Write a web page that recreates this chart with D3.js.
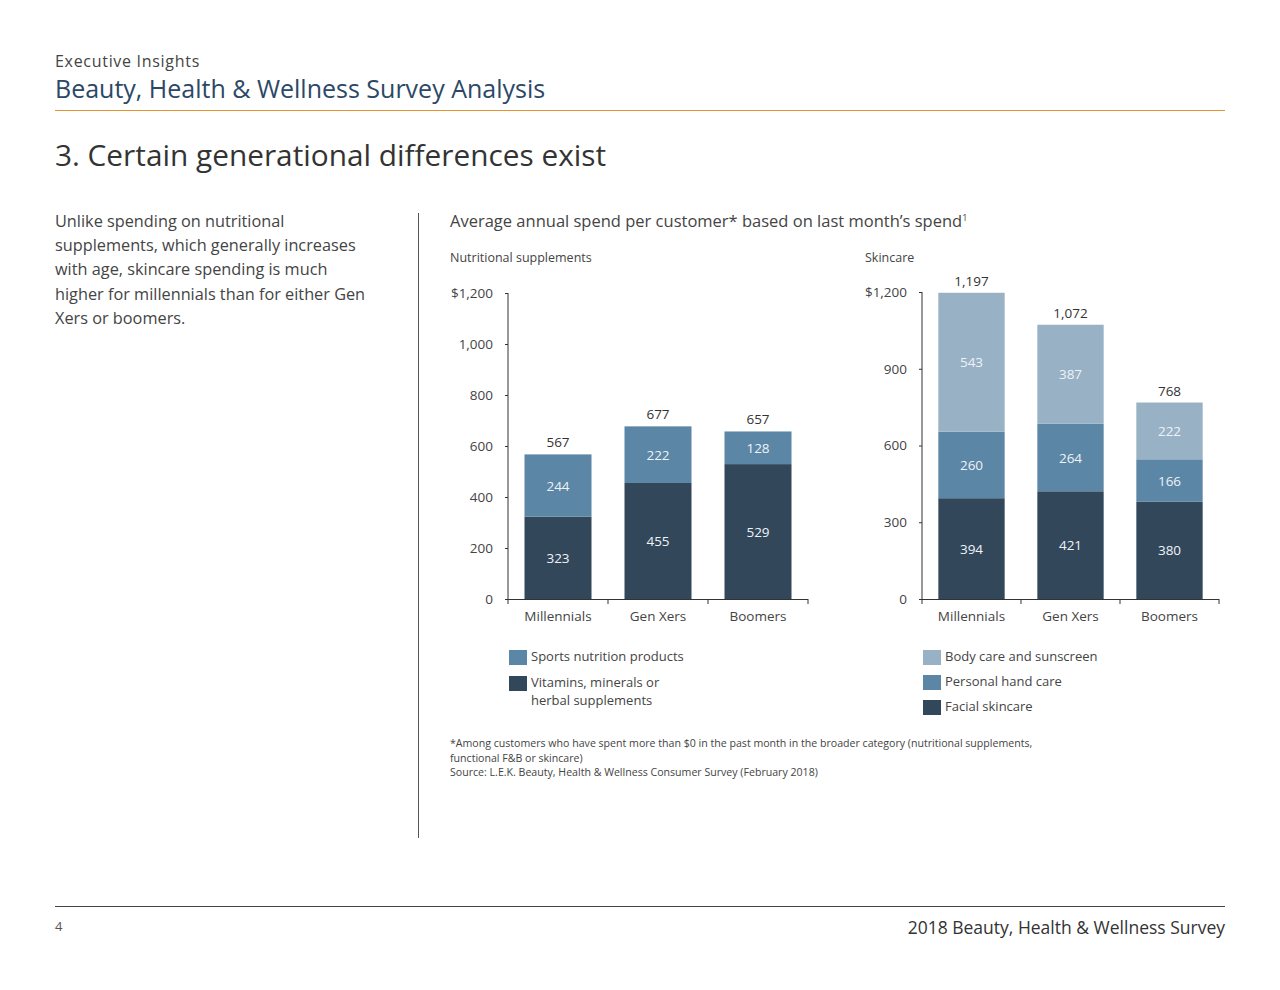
<!DOCTYPE html>
<html>
<head>
<meta charset="utf-8">
<script src="https://cdn.jsdelivr.net/npm/d3@7"></script>
<style>
  body { margin: 0; background: #fff; }
  svg text { font-family: "Open Sans", "Noto Sans", sans-serif; }
</style>
</head>
<body>
<div id="wrapper"></div>
<script>
// Data
const generations = ['Millennials', 'Gen Xers', 'Boomers']

const nutritionSeries = ['Vitamins, minerals or herbal supplements', 'Sports nutrition products']
const vitamins = [323, 455, 529]
const sports = [244, 222, 128]
const nutritionTotals = [567, 677, 657]
const nutritionTicks = [0, 200, 400, 600, 800, 1000, 1200]

const skinSeries = ['Facial skincare', 'Personal hand care', 'Body care and sunscreen']
const facial = [394, 421, 380]
const handCare = [260, 264, 166]
const bodyCare = [543, 387, 222]
const skinTotals = [1197, 1072, 768]
const skinTicks = [0, 300, 600, 900, 1200]

const introLines = [
  'Unlike spending on nutritional',
  'supplements, which generally increases',
  'with age, skincare spending is much',
  'higher for millennials than for either Gen',
  'Xers or boomers.'
]

const footnotes = [
  '*Among customers who have spent more than $0 in the past month in the broader category (nutritional supplements,',
  'functional F&B or skincare)',
  'Source: L.E.K. Beauty, Health & Wellness Consumer Survey (February 2018)'
]

const colors = { dark: '#33475b', mid: '#5b86a5', light: '#98b1c5' }

function drawPage() {
  const svg = d3.select('#wrapper')
    .append('svg')
      .attr('width', 1280)
      .attr('height', 990)

  // Header
  svg.append('text')
    .attr('x', 55).attr('y', 67)
    .attr('font-size', 16).attr('letter-spacing', 0.7).attr('fill', '#444')
    .text('Executive Insights')
  svg.append('text')
    .attr('x', 55).attr('y', 98)
    .attr('font-size', 25).attr('fill', '#2c4866')
    .text('Beauty, Health & Wellness Survey Analysis')
  svg.append('line')
    .attr('x1', 55).attr('x2', 1225).attr('y1', 110.5).attr('y2', 110.5)
    .attr('stroke', '#e69332').attr('stroke-width', 1)
  svg.append('text')
    .attr('x', 55).attr('y', 166)
    .attr('font-size', 29.8).attr('fill', '#333')
    .text('3. Certain generational differences exist')

  // Intro text
  svg.append('g').selectAll('text')
    .data(introLines)
    .join('text')
      .attr('x', 55)
      .attr('y', (d, i) => 227 + i * 24.2)
      .attr('font-size', 16.3).attr('fill', '#444')
      .text(d => d)

  svg.append('line')
    .attr('x1', 418.5).attr('x2', 418.5).attr('y1', 213).attr('y2', 838)
    .attr('stroke', '#555')

  const title = svg.append('text')
    .attr('x', 450).attr('y', 227)
    .attr('font-size', 16.5).attr('fill', '#444')
    .text('Average annual spend per customer* based on last month\u2019s spend')
  title.append('tspan').attr('font-size', 9).attr('dy', -6).text('1')

  // Charts
  drawStack(svg, {
    label: 'Nutritional supplements', labelX: 450,
    left: 508, right: 808, top: 293, bottom: 599,
    ticks: nutritionTicks,
    layers: [
      { values: vitamins, color: colors.dark },
      { values: sports, color: colors.mid }
    ],
    totals: nutritionTotals
  })

  drawStack(svg, {
    label: 'Skincare', labelX: 865,
    left: 922, right: 1219, top: 292, bottom: 599,
    ticks: skinTicks,
    layers: [
      { values: facial, color: colors.dark },
      { values: handCare, color: colors.mid },
      { values: bodyCare, color: colors.light }
    ],
    totals: skinTotals
  })

  // Legends
  const nutLegend = [
    { lines: ['Sports nutrition products'], color: colors.mid, y: 650 },
    { lines: ['Vitamins, minerals or', 'herbal supplements'], color: colors.dark, y: 676 }
  ]
  const skinLegend = [
    { lines: ['Body care and sunscreen'], color: colors.light, y: 650 },
    { lines: ['Personal hand care'], color: colors.mid, y: 675 },
    { lines: ['Facial skincare'], color: colors.dark, y: 700 }
  ]
  drawLegend(svg, nutLegend, 509)
  drawLegend(svg, skinLegend, 923)

  // Footnotes
  svg.append('g').selectAll('text')
    .data(footnotes)
    .join('text')
      .attr('x', 450)
      .attr('y', (d, i) => 747 + i * 14.5)
      .attr('font-size', 10.6).attr('fill', '#444')
      .text(d => d)

  // Footer
  svg.append('line')
    .attr('x1', 55).attr('x2', 1225).attr('y1', 906.5).attr('y2', 906.5)
    .attr('stroke', '#444')
  svg.append('text')
    .attr('x', 55).attr('y', 931)
    .attr('font-size', 13).attr('fill', '#555')
    .text('4')
  svg.append('text')
    .attr('x', 1225).attr('y', 934)
    .attr('text-anchor', 'end')
    .attr('font-size', 17.5).attr('fill', '#333')
    .text('2018 Beauty, Health & Wellness Survey')
}

function drawStack(svg, cfg) {
  const g = svg.append('g')

  g.append('text')
    .attr('x', cfg.labelX).attr('y', 262)
    .attr('font-size', 12.5).attr('fill', '#444')
    .text(cfg.label)

  const xScale = d3.scaleBand()
    .domain(generations)
    .range([cfg.left, cfg.right])
    .paddingInner(0.33)
    .paddingOuter(0.165)

  const yScale = d3.scaleLinear()
    .domain([0, 1200])
    .range([cfg.bottom, cfg.top])

  // stacked layers
  const stacked = cfg.layers.map((layer, li) => generations.map((gen, i) => {
    const base = d3.sum(cfg.layers.slice(0, li), l => l.values[i])
    return { gen, y0: base, y1: base + layer.values[i], value: layer.values[i], color: layer.color }
  }))

  stacked.forEach(layer => {
    g.append('g').selectAll('rect')
      .data(layer)
      .join('rect')
        .attr('x', d => xScale(d.gen))
        .attr('width', xScale.bandwidth())
        .attr('y', d => yScale(d.y1))
        .attr('height', d => yScale(d.y0) - yScale(d.y1))
        .attr('fill', d => d.color)

    g.append('g').selectAll('text')
      .data(layer)
      .join('text')
        .attr('x', d => xScale(d.gen) + xScale.bandwidth() / 2)
        .attr('y', d => yScale((d.y0 + d.y1) / 2) + 5)
        .attr('text-anchor', 'middle')
        .attr('font-size', 13.5).attr('fill', '#eef3f8')
        .text(d => d.value)
  })

  // totals
  g.append('g').selectAll('text')
    .data(cfg.totals)
    .join('text')
      .attr('x', (d, i) => xScale(generations[i]) + xScale.bandwidth() / 2)
      .attr('y', d => yScale(d) - 7)
      .attr('text-anchor', 'middle')
      .attr('font-size', 13.5).attr('fill', '#333')
      .text(d => d3.format(',')(d))

  // y axis
  const yAxis = d3.axisLeft(yScale)
    .tickValues(cfg.ticks)
    .tickSize(3)
    .tickPadding(12)
    .tickFormat(d => d === 1200 ? '$1,200' : d3.format(',')(d))
  const yg = g.append('g')
    .attr('transform', `translate(${cfg.left},0)`)
    .call(yAxis)
  yg.select('.domain').attr('stroke', '#333').attr('d', `M0,${cfg.top}V${cfg.bottom}`)
  yg.selectAll('.tick line').attr('stroke', '#333')
  yg.selectAll('.tick text')
    .attr('font-family', '"Open Sans", sans-serif')
    .attr('font-size', 13.5).attr('fill', '#444')

  // x axis baseline with boundary ticks
  g.append('line')
    .attr('x1', cfg.left).attr('x2', cfg.right)
    .attr('y1', cfg.bottom + 0.5).attr('y2', cfg.bottom + 0.5)
    .attr('stroke', '#333')
  const step = xScale.step()
  const bounds = d3.range(generations.length + 1).map(i => cfg.left + i * step)
  g.append('g').selectAll('line')
    .data(bounds)
    .join('line')
      .attr('x1', d => d).attr('x2', d => d)
      .attr('y1', cfg.bottom).attr('y2', cfg.bottom + 5)
      .attr('stroke', '#333')

  g.append('g').selectAll('text')
    .data(generations)
    .join('text')
      .attr('x', d => xScale(d) + xScale.bandwidth() / 2)
      .attr('y', cfg.bottom + 22)
      .attr('text-anchor', 'middle')
      .attr('font-size', 13.5).attr('fill', '#444')
      .text(d => d)
}

function drawLegend(svg, items, x) {
  const g = svg.append('g')
  items.forEach(item => {
    g.append('rect')
      .attr('x', x).attr('y', item.y)
      .attr('width', 18).attr('height', 15)
      .attr('fill', item.color)
    g.append('g').selectAll('text')
      .data(item.lines)
      .join('text')
        .attr('x', x + 22)
        .attr('y', (d, i) => item.y + 11 + i * 18)
        .attr('font-size', 13).attr('fill', '#444')
        .text(d => d)
  })
}

drawPage()
</script>
</body>
</html>
